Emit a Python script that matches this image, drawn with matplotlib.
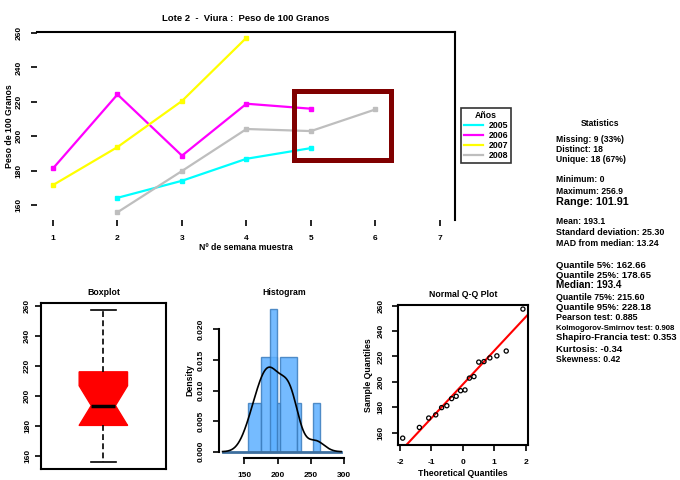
import numpy as np
import matplotlib
matplotlib.use("Agg")
import matplotlib.pyplot as plt
from matplotlib.lines import Line2D
from matplotlib.patches import Rectangle
from statistics import NormalDist

plt.rcParams['font.family'] = ['Liberation Sans', 'DejaVu Sans']
plt.rcParams['font.weight'] = 'bold'

# ---------------- data ----------------
title = "Lote 2  -  Viura :  Peso de 100 Granos"
xlabel = "Nº de semana muestra"
ylabel = "Peso de 100 Granos"
years = ["2005", "2006", "2007", "2008"]
colors = ["#00FFFF", "#FF00FF", "#FFFF00", "#BEBEBE"]
x_2005 = [2, 3, 4, 5]
y_2005 = [164.2, 174.1, 186.9, 193.1]
x_2006 = [1, 2, 3, 4, 5]
y_2006 = [181.3, 224.3, 188.7, 218.9, 216.0]
x_2007 = [1, 2, 3, 4]
y_2007 = [171.6, 193.7, 220.5, 257.3]
x_2008 = [2, 3, 4, 5, 6]
y_2008 = [155.8, 179.8, 204.2, 203.0, 215.6]
main_xticks = [1, 2, 3, 4, 5, 6, 7]
main_yticks = [160, 180, 200, 220, 240, 260]
highlight_x = (4.74, 6.24)
highlight_y = (186.3, 226.4)

# histogram bars (left edge, right edge, density)
hist_left = [155.0, 175.0, 198.6, 188.6, 203.6, 228.6, 253.6]
hist_right = [175.0, 198.6, 203.6, 198.6, 228.6, 234.6, 264.6]
hist_dens = [0.0080, 0.0155, 0.0080, 0.0233, 0.0155, 0.0080, 0.0080]
hist_xticks = [150, 200, 250, 300]
hist_yticks = [0.000, 0.005, 0.010, 0.015, 0.020]

stats_title = "Statistics"
stats_lines = [
    ("Missing: 9 (33%)", 139, 6.2),
    ("Distinct: 18", 149, 6.2),
    ("Unique: 18 (67%)", 159, 6.2),
    ("Minimum: 0", 180, 6.2),
    ("Maximum: 256.9", 191, 6.2),
    ("Range: 101.91", 202, 7.8),
    ("Mean: 193.1", 222, 6.2),
    ("Standard deviation: 25.30", 233, 6.4),
    ("MAD from median: 13.24", 244, 6.3),
    ("Quantile 5%: 162.66", 265, 6.8),
    ("Quantile 25%: 178.65", 275, 6.8),
    ("Median: 193.4", 285, 7.2),
    ("Quantile 75%: 215.60", 297, 6.4),
    ("Quantile 95%: 228.18", 307, 6.8),
    ("Pearson test: 0.885", 318, 6.4),
    ("Kolmogorov-Smirnov test: 0.908", 328, 7.4),
    ("Shapiro-Francia test: 0.353", 338, 7.6),
    ("Kurtosis: -0.34", 349, 6.8),
    ("Skewness: 0.42", 360, 6.2),
]

all_vals = np.array(y_2005 + y_2006 + y_2007 + y_2008)

W, H = 680, 480
fig = plt.figure(figsize=(6.8, 4.8), dpi=100)


def fax(l, t, r, b):
    return fig.add_axes([l / W, 1 - b / H, (r - l) / W, (b - t) / H])


TL = dict(fontsize=6, fontweight='bold')

# ---------------- main plot ----------------
ax = fax(37, 32, 455, 220)
series = [(x_2005, y_2005), (x_2006, y_2006), (x_2007, y_2007), (x_2008, y_2008)]
for (xs, ys), c in zip(series, colors):
    ax.plot(xs, ys, color=c, lw=1.6, marker='s', ms=3.5, mec=c, mfc=c)
ax.set_xlim(0.752, 7.233)
ax.set_ylim(151.3, 260.6)
ax.set_xticks(main_xticks)
ax.set_yticks(main_yticks)
ax.set_xticklabels([str(v) for v in main_xticks], **TL)
ax.set_yticklabels([str(v) for v in main_yticks], rotation=90, va='center', **TL)
for s in ['left', 'bottom']:
    ax.spines[s].set_visible(False)
for s in ['top', 'right']:
    ax.spines[s].set_linewidth(1.5)
ax.tick_params(direction='out', length=4.5, width=1.2, pad=6)
ax.set_title(title, fontsize=6.8, fontweight='bold', pad=8)
ax.set_xlabel(xlabel, fontsize=6.3, fontweight='bold', labelpad=1)
ax.set_ylabel(ylabel, fontsize=6.3, fontweight='bold', labelpad=1)
ax.add_patch(Rectangle((highlight_x[0], highlight_y[0]),
                       highlight_x[1] - highlight_x[0], highlight_y[1] - highlight_y[0],
                       fill=False, edgecolor='#800000', lw=3.6, clip_on=False, zorder=5))

handles = [Line2D([], [], color=c, lw=1.6) for c in colors]
leg = fig.legend(handles, years, loc='upper left', bbox_to_anchor=(461 / W, 1 - 107.5 / H),
                 title='Años', fontsize=6.3, title_fontsize=6.3, frameon=True, fancybox=False,
                 edgecolor='black', borderaxespad=0, borderpad=0.35, labelspacing=0.12,
                 handlelength=2.2, handletextpad=0.6)
leg.get_frame().set_linewidth(1.2)
for t in leg.get_texts():
    t.set_fontweight('bold')
leg.get_title().set_fontweight('bold')

# ---------------- stats text ----------------
fig.text(600 / W, 1 - 124 / H, stats_title, ha='center', va='center', fontsize=6.2,
         fontweight='bold')
stat_texts = []
for txt, yy, fs in stats_lines:
    stat_texts.append(fig.text(556 / W, 1 - yy / H, txt, ha='left', va='center',
                               fontsize=fs, fontweight='bold'))
renderer = fig.canvas.get_renderer()
for t in stat_texts:
    for _ in range(30):
        bb = t.get_window_extent(renderer=renderer)
        if bb.x1 <= W - 3:
            break
        t.set_fontsize(t.get_fontsize() * 0.96)

# ---------------- boxplot ----------------
axb = fax(40.7, 303.3, 166, 469)
bp = axb.boxplot(all_vals, positions=[1], widths=0.386, notch=True, patch_artist=True,
                 showfliers=False, capwidths=0.197)
for b in bp['boxes']:
    b.set_facecolor('#FF0000')
    b.set_edgecolor('#FF0000')
for m in bp['medians']:
    m.set_color('black')
    m.set_linewidth(2.5)
for w in bp['whiskers']:
    w.set_color('black')
    w.set_linestyle((0, (3.5, 2)))
    w.set_linewidth(1.2)
for c in bp['caps']:
    c.set_color('black')
    c.set_linewidth(1.2)
axb.set_xlim(0.5, 1.5)
axb.set_ylim(151.1, 261.6)
axb.set_xticks([])
axb.set_yticks(main_yticks)
axb.set_yticklabels([str(v) for v in main_yticks], rotation=90, va='center', **TL)
axb.tick_params(direction='out', length=4, width=1.2, pad=3)
for s in axb.spines.values():
    s.set_linewidth(1.5)
axb.set_title("Boxplot", fontsize=6.3, fontweight='bold', pad=6)

# ---------------- histogram ----------------
axh = fax(219, 303, 350, 458)
lefts = np.array(hist_left)
rights = np.array(hist_right)
axh.bar(lefts, hist_dens, width=rights - lefts, align='edge', color='#5DB0FF',
        edgecolor='#3C7DBE', lw=1.0, alpha=0.85)
n = len(all_vals)
sd = np.std(all_vals, ddof=1)
q1, q3 = np.percentile(all_vals, [25, 75])
bw = 0.9 * min(sd, (q3 - q1) / 1.34) * n ** (-0.2)
gx = np.linspace(all_vals.min() - 3 * bw, all_vals.max() + 3 * bw, 300)
gy = np.exp(-0.5 * ((gx[:, None] - all_vals[None, :]) / bw) ** 2).sum(axis=1) / (n * bw * np.sqrt(2 * np.pi))
axh.plot(gx, np.zeros_like(gx), color='#3C6E9E', lw=2)
axh.plot(gx, gy, color='black', lw=1.2)
axh.set_xlim(112, 309)
axh.set_ylim(-0.00103, 0.0243)
axh.set_xticks(hist_xticks)
axh.set_yticks(hist_yticks)
axh.set_xticklabels([str(v) for v in hist_xticks], **TL)
axh.set_yticklabels(["%.3f" % v for v in hist_yticks], rotation=90, va='center', **TL)
for s in ['top', 'right']:
    axh.spines[s].set_visible(False)
axh.spines['left'].set_bounds(0, 0.020)
axh.spines['bottom'].set_bounds(150, 300)
axh.spines['left'].set_linewidth(1.5)
axh.spines['bottom'].set_linewidth(1.5)
axh.tick_params(direction='out', length=4, width=1.2, pad=6)
axh.set_ylabel("Density", fontsize=6.3, fontweight='bold', labelpad=3)
axh.set_title("Histogram", fontsize=6.3, fontweight='bold', pad=6)

# ---------------- QQ plot ----------------
axq = fax(398.3, 305, 528.3, 445)
srt = np.sort(all_vals)
nd = NormalDist()
theo = np.array([nd.inv_cdf((i + 0.5) / n) for i in range(n)])
axq.scatter(theo, srt, s=9, facecolors='none', edgecolors='black', linewidths=0.9, zorder=3)
zq1, zq3 = nd.inv_cdf(0.25), nd.inv_cdf(0.75)
slope = (q3 - q1) / (zq3 - zq1)
inter = q1 - slope * zq1
lx = np.array([-2.2, 2.2])
axq.plot(lx, inter + slope * lx, color='#FF0000', lw=1.5)
axq.set_xlim(-2.054, 2.086)
axq.set_ylim(150.4, 260.5)
axq.set_xticks([-2, -1, 0, 1, 2])
axq.set_xticklabels(["-2", "-1", "0", "1", "2"], **TL)
axq.set_yticks(main_yticks)
axq.set_yticklabels([str(v) for v in main_yticks], rotation=90, va='center', **TL)
axq.tick_params(direction='out', length=4, width=1.2, pad=6)
for s in axq.spines.values():
    s.set_linewidth(1.5)
axq.set_xlabel("Theoretical Quantiles", fontsize=6.3, fontweight='bold', labelpad=2)
axq.set_ylabel("Sample Quantiles", fontsize=6.3, fontweight='bold', labelpad=3)
axq.set_title("Normal Q-Q Plot", fontsize=6.3, fontweight='bold', pad=6)

fig.savefig("out.png", dpi=100)
